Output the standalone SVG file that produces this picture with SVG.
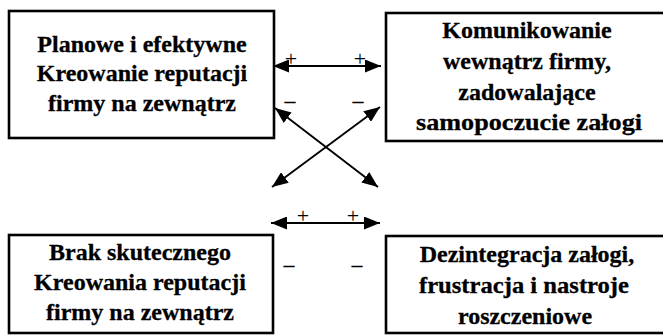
<svg xmlns="http://www.w3.org/2000/svg" width="663" height="335" viewBox="0 0 663 335">
  <style>
    .box { fill: #ffffff; stroke: #000000; stroke-width: 2.6; }
    .label { font-family: "Liberation Serif", "Times New Roman", serif; font-weight: bold; font-size: 24px; fill: #000000; stroke: #000000; stroke-width: 0.3; text-anchor: middle; }
    .link { fill: none; stroke: #000000; stroke-width: 1.9; marker-start: url(#head); marker-end: url(#head); }
    .sign { font-family: "Liberation Serif", "Times New Roman", serif; font-size: 22px; fill: #000000; text-anchor: middle; }
    .minus { font-family: "Liberation Serif", "Times New Roman", serif; font-weight: bold; font-size: 22px; fill: #000000; text-anchor: middle; }
  </style>
  <defs>
    <!-- solid triangular arrowhead used at both ends of every connector -->
    <marker id="head" viewBox="0 0 16 13" refX="16" refY="6.5" markerWidth="16" markerHeight="13" markerUnits="userSpaceOnUse" orient="auto-start-reverse">
      <path d="M0,0 L16,6.5 L0,13 Z" fill="#000000"/>
    </marker>
  </defs>
  <rect width="663" height="335" fill="#ffffff"/>

  <!-- top left: planned reputation building -->
  <g id="node-planowe">
    <rect class="box" x="9" y="11" width="265" height="127"/>
    <text class="label" x="142" y="52">Planowe i efektywne</text>
    <text class="label" x="142" y="81">Kreowanie reputacji</text>
    <text class="label" x="142" y="111">firmy na zewnątrz</text>
  </g>

  <!-- top right: internal communication -->
  <g id="node-komunikowanie">
    <rect class="box" x="386" y="13" width="290" height="128"/>
    <text class="label" x="527" y="38">Komunikowanie</text>
    <text class="label" x="527" y="69">wewnątrz firmy,</text>
    <text class="label" x="527" y="100">zadowalające</text>
    <text class="label" x="529" y="130" textLength="226" lengthAdjust="spacingAndGlyphs">samopoczucie załogi</text>
  </g>

  <!-- bottom left: lack of reputation building -->
  <g id="node-brak">
    <rect class="box" x="9" y="235" width="264" height="98"/>
    <text class="label" x="140" y="260">Brak skutecznego</text>
    <text class="label" x="140" y="290">Kreowania reputacji</text>
    <text class="label" x="140" y="320">firmy na zewnątrz</text>
  </g>

  <!-- bottom right: staff disintegration -->
  <g id="node-dezintegracja">
    <rect class="box" x="386" y="236" width="290" height="97"/>
    <text class="label" x="527" y="262">Dezintegracja załogi,</text>
    <text class="label" x="524" y="293" textLength="210" lengthAdjust="spacingAndGlyphs">frustracja i nastroje</text>
    <text class="label" x="525" y="324">roszczeniowe</text>
  </g>

  <!-- two-way connectors -->
  <g id="connectors">
    <line class="link" x1="273" y1="66" x2="381" y2="66"/>
    <line class="link" x1="275" y1="108" x2="378" y2="187"/>
    <line class="link" x1="380" y1="107" x2="272" y2="187"/>
    <line class="link" x1="271" y1="223" x2="380" y2="223"/>
  </g>

  <!-- relation signs -->
  <g id="signs">
    <text class="sign" x="291" y="66">+</text>
    <text class="sign" x="360" y="66">+</text>
    <text class="sign" x="303" y="223">+</text>
    <text class="sign" x="353" y="223">+</text>
    <text class="minus" x="290" y="108">–</text>
    <text class="minus" x="358" y="108">–</text>
    <text class="minus" x="289" y="272">–</text>
    <text class="minus" x="357" y="272">–</text>
  </g>
</svg>
